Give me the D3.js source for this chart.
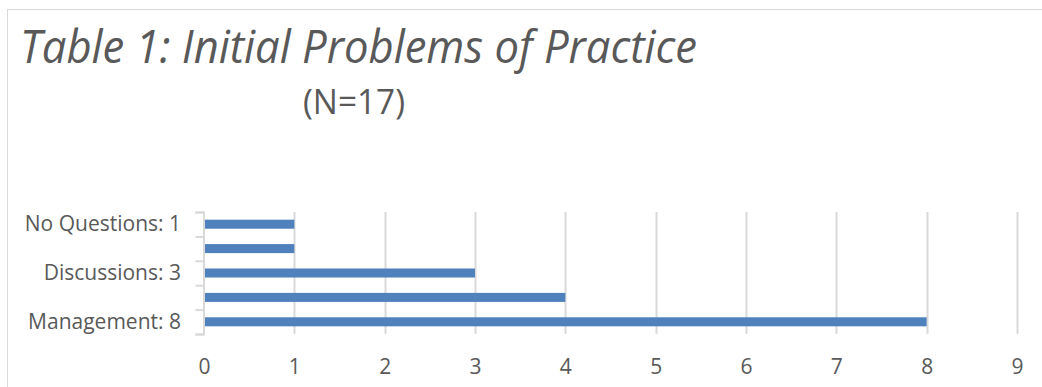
<!DOCTYPE html>
<html>
<head>
<meta charset="utf-8">
<script src="https://cdn.jsdelivr.net/npm/d3@7"></script>
<style>
  html, body { margin: 0; padding: 0; background: #fff; }
  svg { display: block; }
  text { font-family: "Open Sans", "Noto Sans", sans-serif; fill: #595959; }
</style>
</head>
<body>
<svg id="chart" width="1042" height="387"></svg>
<script>
// Category labels, bottom to top; the unlabeled rows are left blank on the axis.
const categories = ["Management: 8", "", "Discussions: 3", "", "No Questions: 1"];
const values = [8, 4, 3, 1, 1];
const xTicks = [0, 1, 2, 3, 4, 5, 6, 7, 8, 9];
const title = "Table 1: Initial Problems of Practice";
const subtitle = "(N=17)";

const svg = d3.select("#chart");
const W = 1042, H = 387;
const plot = { left: 204, right: 1017, top: 212, bottom: 334 };

// chart frame
svg.append("rect")
  .attr("x", 7.5).attr("y", 9.5)
  .attr("width", W + 20).attr("height", H + 20)
  .attr("fill", "#fff").attr("stroke", "#d9d9d9").attr("stroke-width", 1);

// titles
svg.append("text")
  .attr("x", 20).attr("y", 63)
  .attr("font-size", 45).attr("font-style", "italic")
  .attr("textLength", 677).attr("lengthAdjust", "spacingAndGlyphs")
  .text(title);
svg.append("text")
  .attr("x", 303).attr("y", 114)
  .attr("font-size", 34)
  .attr("textLength", 102).attr("lengthAdjust", "spacingAndGlyphs")
  .text(subtitle);

const x = d3.scaleLinear().domain([0, 9]).range([plot.left, plot.right]);
const idx = d3.range(categories.length);
const y = d3.scaleBand().domain(idx)
  .range([plot.bottom, plot.top])
  .paddingInner(0.63).paddingOuter(0.315);

// vertical gridlines
svg.append("g")
  .selectAll("line")
  .data(xTicks.filter(d => d > 0))
  .join("line")
  .attr("x1", d => Math.round(x(d)) + 0.5).attr("x2", d => Math.round(x(d)) + 0.5)
  .attr("y1", plot.top).attr("y2", plot.bottom)
  .attr("stroke", "#d9d9d9").attr("stroke-width", 2);

// bars
svg.append("g")
  .selectAll("rect")
  .data(idx)
  .join("rect")
  .attr("x", x(0))
  .attr("y", i => y(i))
  .attr("width", i => x(values[i]) - x(0))
  .attr("height", y.bandwidth())
  .attr("fill", "#4f81bd");

// category axis with ticks at band boundaries
const yEdges = d3.scaleLinear().domain([0, categories.length]).range([plot.bottom, plot.top]);
const yAxis = svg.append("g")
  .attr("transform", `translate(${plot.left - 0.5},0)`)
  .call(d3.axisLeft(yEdges).ticks(categories.length).tickSize(8).tickSizeOuter(8).tickFormat(""));
yAxis.selectAll("path, line").attr("stroke", "#d9d9d9").attr("stroke-width", 2);

// category labels
const yLabels = svg.append("g")
  .attr("transform", `translate(${plot.left},0)`)
  .call(d3.axisLeft(y).tickSize(0).tickPadding(23).tickFormat(i => categories[i]));
yLabels.select(".domain").remove();
yLabels.selectAll("text").attr("font-size", 21).attr("fill", "#595959")
  .attr("font-family", "'Open Sans', 'Noto Sans', sans-serif");

// value axis labels
const xAxis = svg.append("g")
  .attr("transform", `translate(0,${plot.bottom})`)
  .call(d3.axisBottom(x).tickValues(xTicks).tickSize(0).tickPadding(25).tickFormat(d3.format("d")));
xAxis.select(".domain").remove();
xAxis.selectAll("text").attr("font-size", 21).attr("fill", "#595959")
  .attr("font-family", "'Open Sans', 'Noto Sans', sans-serif");
</script>
</body>
</html>
